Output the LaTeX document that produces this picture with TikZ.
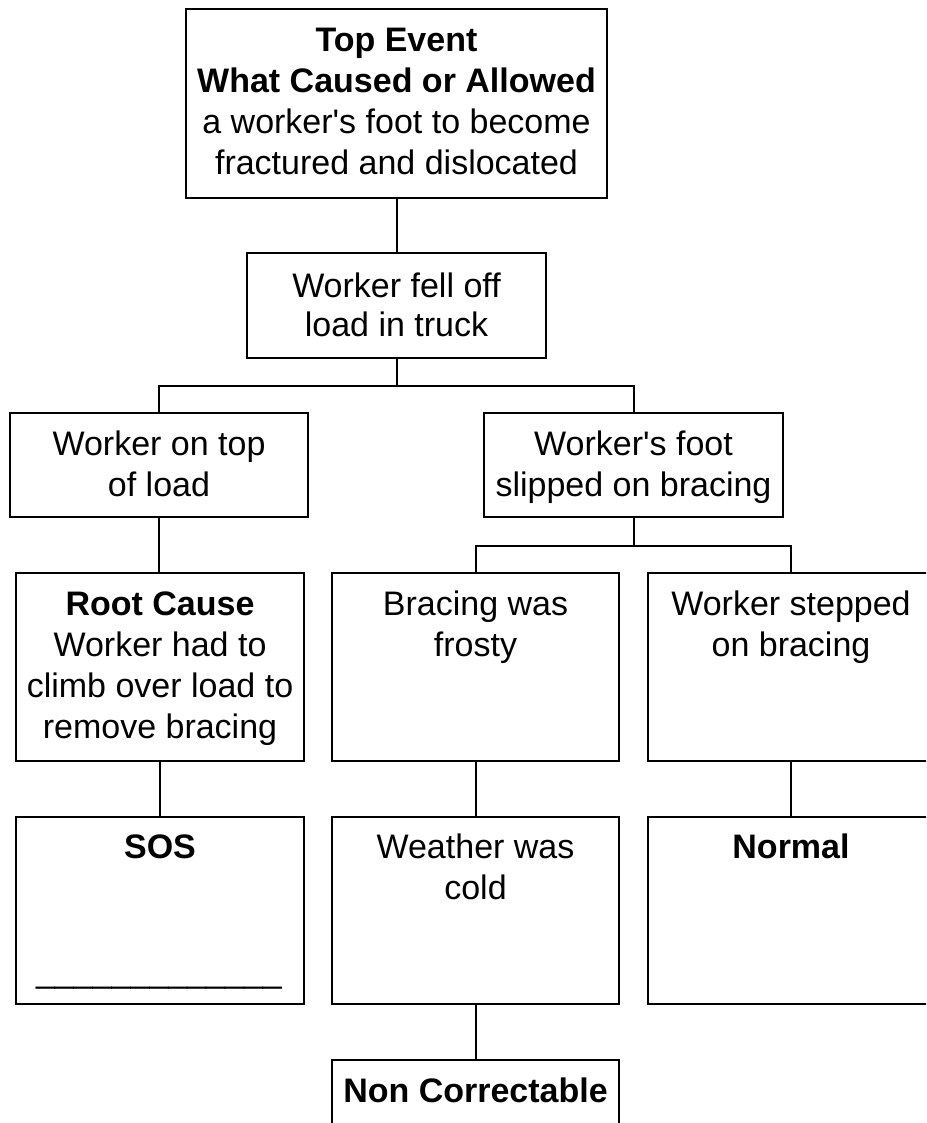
\documentclass[tikz,border=0pt]{standalone}
\usepackage{fontspec}
\setmainfont{Liberation Sans}
\begin{document}
\begin{tikzpicture}[x=1pt,y=-1pt,
  box/.style={draw=black, line width=2pt, inner sep=0pt, fill=white},
  txt/.style={inner sep=0pt, anchor=base, font=\fontsize{34}{41}\selectfont},
  link/.style={draw=black, line width=2pt}]
\useasboundingbox (0,0) rectangle (926,1123);
\clip (0,0) rectangle (926,1123);
\fill[white] (0,0) rectangle (926,1123);
% boxes
\node[box, minimum width=421pt, minimum height=189pt] (top) at (396.5,103.5) {};
\node[box, minimum width=299pt, minimum height=105pt] (fell) at (396.5,305.5) {};
\node[box, minimum width=298pt, minimum height=104pt] (ontop) at (159,465) {};
\node[box, minimum width=299pt, minimum height=104pt] (slip) at (633.5,465) {};
\node[box, minimum width=288pt, minimum height=188pt] (root) at (160,667) {};
\node[box, minimum width=287pt, minimum height=188pt] (frosty) at (475.5,667) {};
\node[box, minimum width=286pt, minimum height=188pt] (stepped) at (791,667) {};
\node[box, minimum width=288pt, minimum height=187pt] (sos) at (160,910.5) {};
\node[box, minimum width=287pt, minimum height=187pt] (cold) at (475.5,910.5) {};
\node[box, minimum width=286pt, minimum height=187pt] (normal) at (791,910.5) {};
\node[box, minimum width=287pt, minimum height=100pt] (noncorr) at (475.5,1110) {};
% texts
\node[txt] (top-t) at (396.5,52) {\begin{tabular}[t]{@{}c@{}}\textbf{Top Event}\\ \textbf{What Caused or Allowed}\\ a worker\textquotesingle s foot to become\\ fractured and dislocated\end{tabular}};
\node[txt] (fell-t) at (396.5,297) {\begin{tabular}[t]{@{}c@{}}Worker fell off\\[-2pt] load in truck\end{tabular}};
\node[txt] (ontop-t) at (159,455) {\begin{tabular}[t]{@{}c@{}}Worker on top\\ of load\end{tabular}};
\node[txt] (slip-t) at (633.5,455) {\begin{tabular}[t]{@{}c@{}}Worker\textquotesingle s foot\\ slipped on bracing\end{tabular}};
\node[txt] (root-t) at (160,615) {\begin{tabular}[t]{@{}c@{}}\textbf{Root Cause}\\ Worker had to\\ climb over load to\\ remove bracing\end{tabular}};
\node[txt] (frosty-t) at (475.5,615) {\begin{tabular}[t]{@{}c@{}}Bracing was\\ frosty\end{tabular}};
\node[txt] (stepped-t) at (791,615) {\begin{tabular}[t]{@{}c@{}}Worker stepped\\ on bracing\end{tabular}};
\node[txt] (sos-t) at (160,858) {\textbf{SOS}};
\node[txt] (sos-line) at (159,982) {\_\_\_\_\_\_\_\_\_\_\_\_\_};
\node[txt] (cold-t) at (475.5,858) {\begin{tabular}[t]{@{}c@{}}Weather was\\ cold\end{tabular}};
\node[txt] (normal-t) at (791,858) {\textbf{Normal}};
\node[txt] (noncorr-t) at (475.5,1102) {\textbf{Non Correctable}};
% connectors
\coordinate (j1) at (396.5,386);
\coordinate (j2) at (633.5,546);
\draw[link] (top.south) -- (fell.north);
\draw[link] (fell.south) -- (j1);
\draw[link] (ontop.north) |- (j1) -| (slip.north);
\draw[link] (ontop.south) -- (ontop.south |- root.north);
\draw[link] (slip.south) -- (j2);
\draw[link] (frosty.north) |- (j2) -| (stepped.north);
\draw[link] (root.south) -- (sos.north);
\draw[link] (frosty.south) -- (cold.north);
\draw[link] (stepped.south) -- (normal.north);
\draw[link] (cold.south) -- (noncorr.north);
\end{tikzpicture}
\end{document}
